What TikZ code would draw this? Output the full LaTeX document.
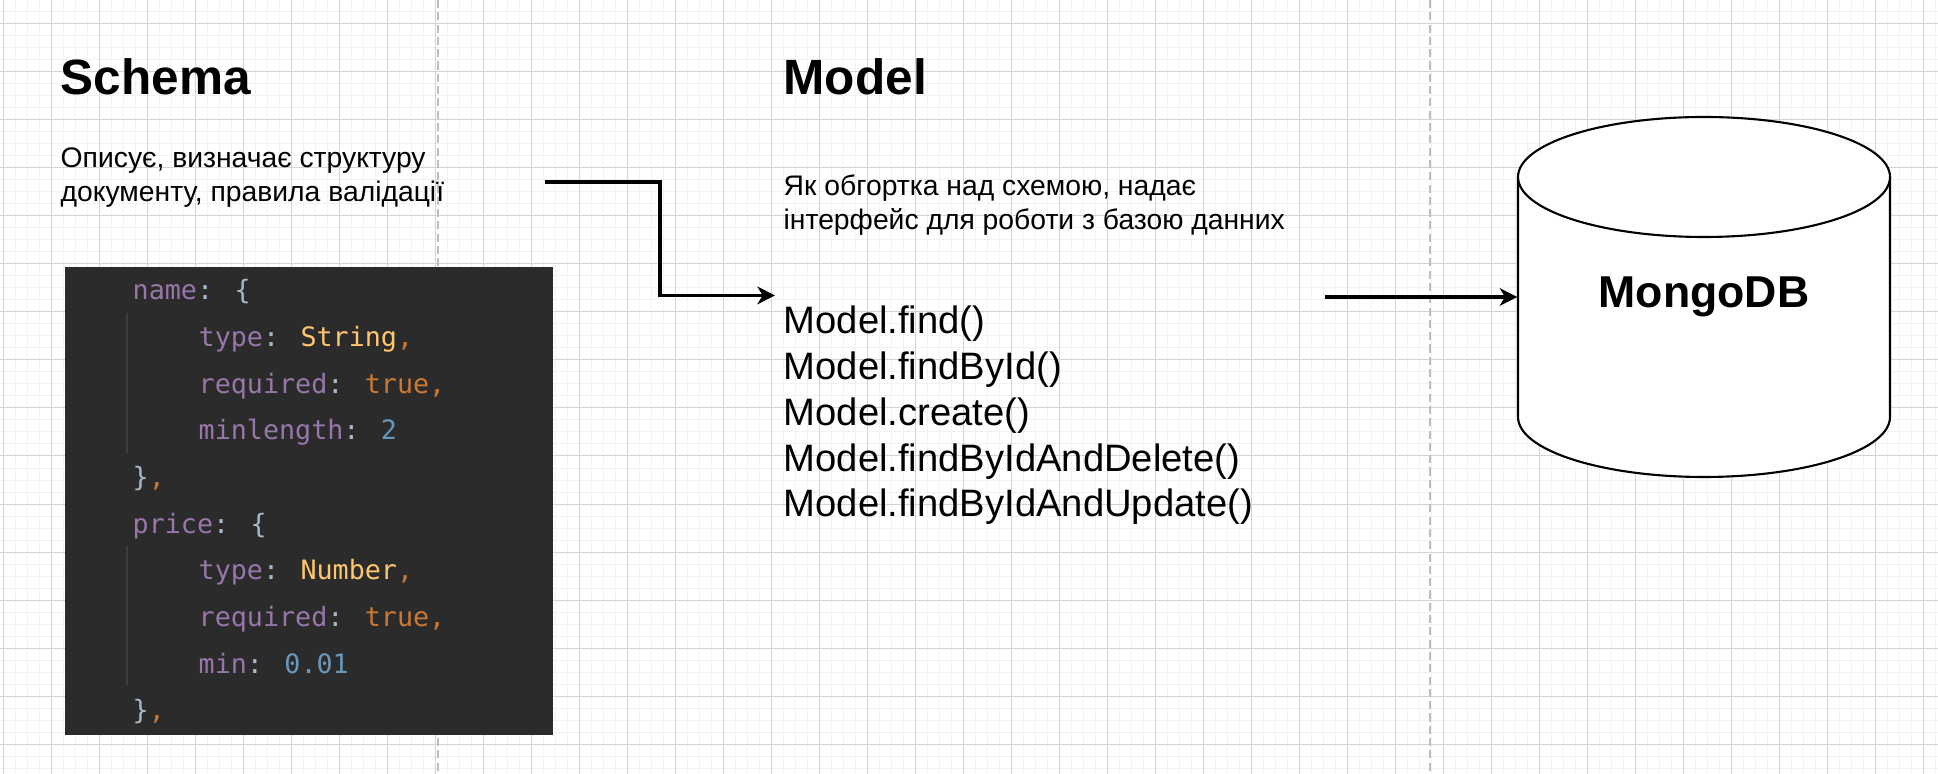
\documentclass[tikz,border=0pt]{standalone}
\usepackage{fontspec}
\setmainfont{Liberation Sans}
\newfontfamily\codefont{DejaVu Sans Mono}
\usetikzlibrary{arrows.meta,calc}

\definecolor{gridlo}{HTML}{F2F2F2}
\definecolor{gridhi}{HTML}{D3D3D3}
\definecolor{lanegray}{HTML}{BDBDBD}
\definecolor{codebg}{HTML}{2B2B2B}
\definecolor{codeguide}{HTML}{3D3D3D}
\definecolor{codetext}{HTML}{A9B7C6}
\definecolor{codekey}{HTML}{9876AA}
\definecolor{codestr}{HTML}{FFC66D}
\definecolor{codeorange}{HTML}{CC7832}
\definecolor{codenum}{HTML}{6897BB}

\newcommand\ckey[1]{\textcolor{codekey}{#1}}
\newcommand\cstr[1]{\textcolor{codestr}{#1}}
\newcommand\cbool[1]{\textcolor{codeorange}{#1}}
\newcommand\cnum[1]{\textcolor{codenum}{#1}}
\newcommand\cind{\hspace*{6.6mm}}

\begin{document}
\begin{tikzpicture}[x=0.1mm,y=-0.1mm,
  gridminor/.style={draw=gridlo,line width=0.28pt},
  gridmajor/.style={draw=gridhi,line width=0.28pt},
  lane/.style={draw=lanegray,line width=0.35pt,dash pattern=on 2.3pt off 1.2pt},
  title/.style={anchor=base west,inner sep=0pt,font=\fontsize{14.1pt}{17pt}\selectfont\bfseries},
  note/.style={anchor=base west,inner sep=0pt,align=left,font=\fontsize{8.05pt}{9.7pt}\selectfont},
  methods/.style={anchor=base west,inner xsep=0.8mm,inner ysep=1mm,align=left,font=\fontsize{10.87pt}{13.03pt}\selectfont},
  codebox/.style={fill=codebg,anchor=north west,minimum width=48.8mm,minimum height=46.8mm,inner sep=0pt},
  codetxt/.style={anchor=base west,inner sep=0pt,align=left,text=codetext,font=\codefont\fontsize{7.6pt}{13.28pt}\selectfont},
  guide/.style={draw=codeguide,line width=0.3pt},
  flow/.style={line width=0.9pt,-{Stealth[length=5pt,width=5pt,inset=1.5pt]}},
  dbline/.style={line width=0.6pt,fill=white},
  dbtext/.style={minimum width=37.2mm,minimum height=36mm,inner sep=0pt,font=\fontsize{12.7pt}{15pt}\selectfont\bfseries}]
\useasboundingbox (0,0) rectangle (1938,774);
\clip (0,0) rectangle (1938,774);
\fill[white] (0,0) rectangle (1938,774);

\foreach \gx in {3,15,...,1938} \draw[gridminor] (\gx,0) -- (\gx,774);
\foreach \gy in {0,12,...,774} \draw[gridminor] (0,\gy) -- (1938,\gy);
\foreach \gx in {3,51,...,1938} \draw[gridmajor] (\gx,0) -- (\gx,774);
\foreach \gy in {24,72,...,774} \draw[gridmajor] (0,\gy) -- (1938,\gy);

\draw[lane] (438,0) -- (438,774);
\draw[lane] (1430,0) -- (1430,774);

% multi-line nodes sit on the baseline of their last line
\node[title] (schema) at (60,95) {Schema};
\node[note] (schemanote) at (60,202) {Описує, визначає структуру\\документу, правила валідації};

\node[codebox] (codeblock) at (64,266) {};
\draw[guide] (127,313) -- (127,453);
\draw[guide] (127,546) -- (127,685);
\node[codetxt] (code) at (132,720) {%
\ckey{name}: \{\\
\cind\ckey{type}: \cstr{String}\cbool{,}\\
\cind\ckey{required}: \cbool{true,}\\
\cind\ckey{minlength}: \cnum{2}\\
\}\cbool{,}\\
\ckey{price}: \{\\
\cind\ckey{type}: \cstr{Number}\cbool{,}\\
\cind\ckey{required}: \cbool{true,}\\
\cind\ckey{min}: \cnum{0.01}\\
\}\cbool{,}};

\node[title] (model) at (783,95) {Model};
\node[note] (modelnote) at (783,230) {Як обгортка над схемою, надає\\інтерфейс для роботи з базою данних};
\node[methods] (methods) at (775,517) {Model.find()\\Model.findById()\\Model.create()\\Model.findByIdAndDelete()\\Model.findByIdAndUpdate()};

\draw[dbline] (1518,177) -- (1518,417) arc[start angle=180,end angle=360,x radius=18.6mm,y radius=6mm] -- (1890,177);
\draw[dbline] (1704,177) ellipse[x radius=18.6mm,y radius=6mm];
\node[dbtext] (db) at (1704,297) {MongoDB};

\coordinate (schemaout) at (545,182);
\coordinate (modelout) at (1325,297);
\draw[flow] (schemaout) -| ($(schemaout)!0.5!(methods.north west)$) |- (methods.north west);
\draw[flow] (modelout) -- (db.west);
\end{tikzpicture}
\end{document}
